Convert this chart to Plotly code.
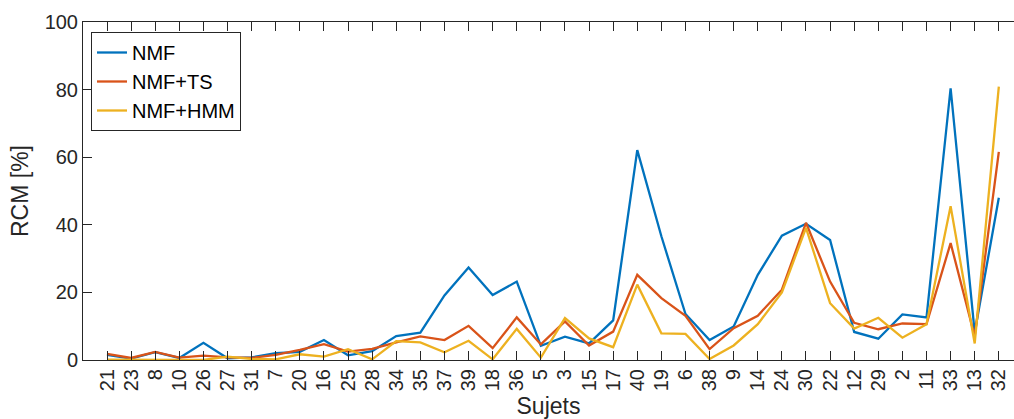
import plotly.graph_objects as go

sujets = ["21", "23", "8", "10", "26", "27", "31", "7", "20", "16", "25", "28", "34",
          "35", "37", "39", "18", "36", "5", "3", "15", "17", "40", "19", "6", "38",
          "9", "14", "24", "30", "22", "12", "29", "2", "11", "33", "13", "32"]

nmf = [1.5, 0.4, 2.3, 0.6, 5.1, 0.5, 0.8, 2.0, 2.4, 5.9, 1.4, 2.6, 7.1,
       8.1, 19.1, 27.4, 19.2, 23.2, 4.2, 6.9, 4.9, 11.7, 62.1, 36.6, 13.6, 5.9,
       9.9, 25.2, 36.8, 40.3, 35.5, 8.3, 6.3, 13.5, 12.6, 80.4, 8.1, 48.0]

nmf_ts = [1.8, 0.6, 2.4, 0.7, 1.3, 0.8, 0.6, 1.5, 3.0, 4.7, 2.5, 3.3, 5.2,
          7.0, 5.9, 10.1, 3.5, 12.6, 4.6, 11.4, 4.3, 8.4, 25.2, 18.3, 13.1, 3.2,
          9.4, 13.1, 20.8, 40.6, 23.2, 11.0, 9.1, 10.8, 10.6, 34.6, 7.0, 61.6]

nmf_hmm = [0.1, 0.0, 0.0, 0.0, 0.0, 1.0, 0.3, 0.2, 1.7, 1.0, 3.2, 0.2, 5.6,
           5.2, 2.3, 5.7, 0.2, 9.2, 0.7, 12.4, 6.4, 3.8, 22.3, 7.9, 7.7, 0.3,
           4.3, 10.6, 20.0, 39.1, 16.8, 9.3, 12.5, 6.6, 10.6, 45.5, 4.9, 80.9]

series = [("NMF", nmf, "#0072BD"), ("NMF+TS", nmf_ts, "#D95319"), ("NMF+HMM", nmf_hmm, "#EDB120")]

FONT = "Liberation Sans, Arial, Helvetica, sans-serif"
INK = "#262626"

fig = go.Figure()
for name, vals, col in series:
    fig.add_trace(go.Scatter(x=sujets, y=vals, mode="lines", name=name,
                             line=dict(color=col, width=2.3)))

W, H = 1014, 419
L, R, T, B = 83, 0, 22, 59

fig.update_layout(
    width=W, height=H,
    margin=dict(l=L, r=R, t=T, b=B, pad=0, autoexpand=False),
    paper_bgcolor="white", plot_bgcolor="white",
    font=dict(family=FONT, color=INK, size=20),
    showlegend=True,
    legend=dict(x=(91 - L) / (W - L - R), y=(360 - 32) / (H - T - B),
                xanchor="left", yanchor="top",
                bgcolor="white", bordercolor=INK, borderwidth=1,
                font=dict(size=20, color="black", family=FONT),
                tracegroupgap=0),
    xaxis=dict(type="category", range=[-0.996, 37.63], automargin=False,
               showline=True, linecolor=INK, linewidth=1, mirror="ticks",
               ticks="inside", ticklen=9, tickcolor=INK, tickwidth=1,
               tickangle=-90, tickfont=dict(size=20, color=INK),
               showgrid=False, zeroline=False,
               title=dict(text="Sujets", font=dict(size=23, color=INK), standoff=11)),
    yaxis=dict(range=[0, 100], tickvals=[0, 20, 40, 60, 80, 100], automargin=False,
               showline=True, linecolor=INK, linewidth=1,
               ticks="inside", ticklen=9, tickcolor=INK, tickwidth=1,
               tickfont=dict(size=20, color=INK),
               showgrid=False, zeroline=False,
               title=dict(text="RCM [%]", font=dict(size=23, color=INK), standoff=9)),
)

fig.write_html(
    "out.html",
    config={"displayModeBar": False},
    post_script="document.body.style.margin='0';document.body.style.padding='0';"
                "document.body.style.overflow='hidden';",
)
